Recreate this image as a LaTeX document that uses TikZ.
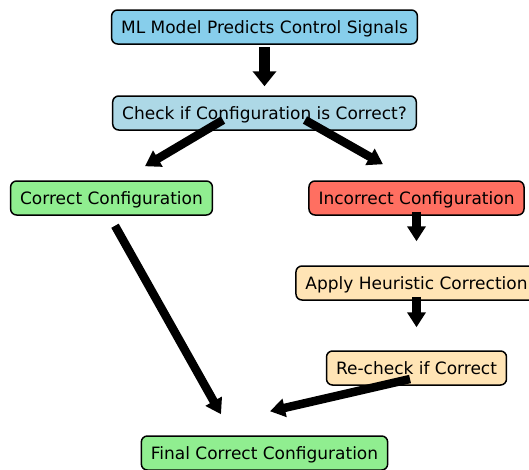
\documentclass[tikz,border=0pt]{standalone}
\usepackage{fontspec}
\setmainfont{DejaVu Sans}
\usepackage{tikz}
\usetikzlibrary{arrows.meta,positioning}
\definecolor{skyblue}{HTML}{87CEEB}
\definecolor{lightblue}{HTML}{ADD8E6}
\definecolor{lightgreen}{HTML}{90EE90}
\definecolor{salmonred}{HTML}{FF6F61}
\definecolor{moccasin}{HTML}{FFE4B5}

\begin{document}
\begin{tikzpicture}[x=1pt,y=1pt,node distance=85pt,
  box/.style={draw=black,line width=1.5pt,rounded corners=6pt,minimum height=34pt,inner xsep=9.5pt,
    text height=12.4pt,text depth=0pt,font=\fontsize{17}{20}\selectfont},
  fat/.style={line width=8.5pt,-{Triangle[width=18pt,length=15pt]}},
  fatter/.style={line width=10.5pt,-{Triangle[width=23pt,length=15pt]}}]
  \useasboundingbox (-264.5,27) rectangle (264.5,-442);
  \node [box,fill=skyblue] (0) {ML Model Predicts Control Signals};
  \node [box,fill=lightblue,below of=0,yshift=-1pt] (1) {Check if Configuration is Correct?};
  \node [box,fill=lightgreen,below of=1,xshift=-153pt] (2) {Correct Configuration};
  \node [box,fill=salmonred,below of=1,xshift=152pt] (3) {Incorrect Configuration};
  \node [box,fill=moccasin,below of=3] (4) {Apply Heuristic Correction};
  \node [box,fill=moccasin,below of=4] (5) {Re-check if Correct};
  \node [box,fill=lightgreen,below of=5,xshift=-152pt] (6) {Final Correct Configuration};

  \draw[fatter,shorten <=2pt,shorten >=9pt] (0.south) -- (1.north);
  \draw[fat] ([xshift=-41.5pt,yshift=-7pt]1.center) -- ([xshift=33.5pt,yshift=14pt]2.north);
  \draw[fat] ([xshift=40.5pt,yshift=-7pt]1.center) -- ([xshift=-33.5pt,yshift=16pt]3.north);
  \draw[fat,shorten <=-4pt,shorten >=24pt] (3.south) -- (4.north);
  \draw[fat,shorten <=-4pt,shorten >=23pt] (4.south) -- (5.north);
  \draw[fat] ([xshift=3.5pt,yshift=-10pt]2.south) -- ([xshift=-43.5pt,yshift=21pt]6.north);
  \draw[fat] ([xshift=-6.5pt,yshift=-11pt]5.center) -- ([xshift=5.5pt,yshift=24pt]6.north);

\end{tikzpicture}
\end{document}
